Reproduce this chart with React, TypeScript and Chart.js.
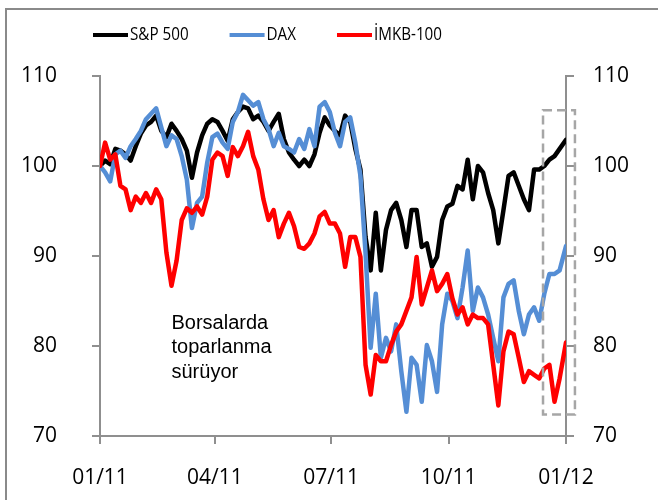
import { useEffect, useRef } from 'react';
import { Chart, registerables } from 'chart.js';

Chart.register(...registerables);

// Day offsets from 01/01/2011
const days = [0, 4, 8, 12, 16, 20, 24, 28, 32, 36, 40, 44, 48, 52, 56, 60, 64, 68, 72, 76, 80, 84, 88, 92,
  96, 100, 104, 108, 112, 116, 120, 124, 128, 132, 136, 140, 144, 148, 152, 156, 160, 164, 168, 172, 176, 180,
  184, 188, 192, 196, 200, 204, 208, 212, 216, 220, 224, 228, 232, 236, 240, 244, 248, 252, 256, 260, 264, 268,
  272, 276, 280, 284, 288, 292, 296, 300, 304, 308, 312, 316, 320, 324, 328, 332, 336, 340, 344, 348, 352, 356, 360, 365];

const sp500 = [100.0, 100.6, 100.2, 101.9, 101.7, 101.3, 100.6, 102.2, 103.6, 104.5, 104.9, 105.6, 103.9, 103.2, 104.7, 103.9, 103.0, 101.7, 98.7, 101.5, 103.4, 104.7, 105.2, 104.9,
  103.9, 102.8, 105.2, 106.0, 106.6, 106.4, 105.2, 105.6, 104.9, 103.9, 104.9, 105.8, 103.0, 101.5, 100.7, 100.0, 100.7, 100.0, 101.3, 103.7, 105.4, 104.5,
  103.9, 103.4, 105.6, 104.9, 101.9, 99.6, 92.1, 88.4, 94.8, 88.4, 92.9, 95.1, 95.9, 94.0, 91.0, 95.1, 95.1, 91.0, 91.4, 88.8, 89.9, 94.0,
  95.5, 95.8, 97.8, 97.4, 100.7, 96.3, 100.0, 99.3, 97.0, 95.1, 91.4, 95.1, 98.9, 99.3, 97.8, 96.3, 95.1, 99.6, 99.6, 100.0, 100.7, 101.1, 101.9, 102.9];

const dax = [100.0, 99.3, 98.3, 101.3, 101.7, 100.9, 102.2, 103.0, 103.9, 105.2, 105.8, 106.4, 104.3, 102.2, 103.4, 103.0, 101.1, 98.5, 93.1, 95.9, 96.6, 100.4, 103.2, 103.6,
  102.6, 101.9, 104.9, 106.0, 107.9, 107.3, 106.7, 107.1, 105.2, 104.1, 102.2, 103.7, 102.2, 101.9, 101.5, 103.0, 101.9, 104.1, 102.2, 106.6, 107.1, 106.0,
  103.7, 102.2, 104.9, 105.4, 102.6, 98.9, 90.3, 79.8, 85.8, 78.7, 80.9, 79.4, 82.4, 77.2, 72.7, 78.7, 77.9, 73.8, 80.1, 78.3, 74.9, 82.4,
  85.8, 85.0, 83.1, 86.5, 90.6, 83.9, 86.5, 85.4, 83.5, 80.9, 78.3, 85.4, 86.9, 87.3, 83.9, 81.3, 83.5, 84.3, 82.8, 85.8, 88.0, 88.0, 88.4, 91.1];

const imkb = [100.0, 102.6, 100.7, 101.3, 97.8, 97.4, 95.1, 96.6, 95.9, 97.0, 95.9, 97.4, 96.3, 90.4, 86.7, 89.5, 94.0, 95.3, 94.8, 95.5, 94.6, 96.6, 100.7, 101.5,
  101.1, 98.9, 102.1, 101.1, 102.2, 103.8, 101.1, 99.6, 96.3, 94.0, 95.1, 92.1, 93.6, 94.8, 93.3, 91.0, 90.8, 91.4, 92.5, 94.4, 94.9, 93.6,
  93.6, 92.5, 88.8, 92.1, 92.1, 89.9, 77.9, 74.6, 79.0, 78.3, 78.3, 80.1, 81.6, 82.4, 83.9, 85.4, 89.9, 84.6, 86.5, 88.4, 86.1, 86.9,
  88.0, 85.3, 83.5, 84.3, 82.4, 83.5, 83.1, 83.1, 82.4, 77.9, 73.4, 79.4, 81.6, 81.3, 78.7, 76.0, 77.2, 76.8, 76.4, 77.5, 77.9, 73.8, 76.4, 80.4];

const seriesNames = ['S&P 500', 'DAX', 'İMKB-100'];
const seriesColors = ['#000000', '#558ED5', '#FF0000'];
const xTickDays = [0, 90, 181, 273, 365];
const xTickLabels = ['01/11', '04/11', '07/11', '10/11', '01/12'];
const yTickValues = [70, 80, 90, 100, 110];
const noteLines = ['Borsalarda', 'toparlanma', 'sürüyor'];
const noteAt = { day: 56, value: 81.9 };
const highlight = { dayFrom: 347, dayTo: 372, low: 72.4, high: 106.2 };

const TICK_FONT = "'Open Sans', 'Noto Sans', sans-serif";
const AXIS_GREY = '#8f8f8f';

export default function App() {
  const ref = useRef<HTMLCanvasElement | null>(null);

  useEffect(() => {
    if (!ref.current) return;
    const seriesValues = [sp500, dax, imkb];

    const decorations = {
      id: 'decorations',
      beforeDraw(chart: any) {
        const ctx = chart.ctx;
        ctx.save();
        ctx.fillStyle = '#ffffff';
        ctx.fillRect(0, 0, chart.width, chart.height);
        ctx.strokeStyle = '#8a8a8a';
        ctx.lineWidth = 2;
        ctx.strokeRect(6, 9, 900, 900);
        ctx.restore();
      },
      afterDatasetsDraw(chart: any) {
        const ctx = chart.ctx;
        const xs = chart.scales.x;
        const ys = chart.scales.y;
        ctx.save();
        // highlight box
        const x0 = xs.getPixelForValue(highlight.dayFrom);
        const x1 = xs.getPixelForValue(highlight.dayTo);
        const y0 = ys.getPixelForValue(highlight.high);
        const y1 = ys.getPixelForValue(highlight.low);
        ctx.strokeStyle = '#a6a6a6';
        ctx.lineWidth = 2.5;
        ctx.setLineDash([9, 5]);
        ctx.strokeRect(x0, y0, x1 - x0, y1 - y0);
        ctx.setLineDash([]);
        // note text
        ctx.fillStyle = '#000';
        ctx.font = "20px 'Liberation Sans', Arial, sans-serif";
        ctx.textBaseline = 'alphabetic';
        ctx.textAlign = 'left';
        const nx = xs.getPixelForValue(noteAt.day);
        const ny = ys.getPixelForValue(noteAt.value);
        noteLines.forEach((t, i) => ctx.fillText(t, nx, ny + i * 24.5));
        // legend (text condensed horizontally, as in the reference)
        const squeeze = 0.8;
        ctx.font = `19px ${TICK_FONT}`;
        ctx.textBaseline = 'middle';
        let lx = 93;
        const ly = 35;
        seriesNames.forEach((name, i) => {
          ctx.strokeStyle = seriesColors[i];
          ctx.lineWidth = 4;
          ctx.beginPath();
          ctx.moveTo(lx, ly);
          ctx.lineTo(lx + 35, ly);
          ctx.stroke();
          ctx.fillStyle = '#000';
          ctx.save();
          ctx.translate(lx + 37, ly);
          ctx.scale(squeeze, 1);
          ctx.fillText(name, 0, 0);
          ctx.restore();
          lx += 37 + ctx.measureText(name).width * squeeze + 41;
        });
        ctx.restore();
      },
    };

    const chart = new Chart(ref.current, {
      type: 'line',
      data: {
        datasets: seriesNames.map((name, i) => ({
          label: name,
          data: days.map((d, j) => ({ x: d, y: seriesValues[i][j] })),
          borderColor: seriesColors[i],
          backgroundColor: seriesColors[i],
          borderWidth: 4.5,
          pointRadius: 0,
          tension: 0,
          borderJoinStyle: 'round' as const,
          borderCapStyle: 'round' as const,
          order: 3 - i,
        })),
      },
      options: {
        responsive: false,
        animation: false,
        layout: { padding: { top: 76, left: 0, right: 0, bottom: 0 } },
        plugins: { legend: { display: false }, tooltip: { enabled: false } },
        scales: {
          x: {
            type: 'linear',
            min: 0,
            max: 365,
            afterBuildTicks(scale: any) {
              scale.ticks = xTickDays.map((v) => ({ value: v }));
            },
            afterFit(scale: any) {
              scale.height = 64;
            },
            ticks: {
              autoSkip: false,
              maxRotation: 0,
              padding: 21,
              color: '#000',
              font: { family: TICK_FONT, size: 21 },
              callback: (v: any) => {
                const k = xTickDays.indexOf(Number(v));
                return k >= 0 ? xTickLabels[k] : '';
              },
            },
            grid: { drawOnChartArea: false, drawTicks: true, tickLength: 8, color: AXIS_GREY, lineWidth: 2 },
            border: { display: true, color: AXIS_GREY, width: 2 },
          },
          y: {
            position: 'left',
            min: 70,
            max: 110,
            afterBuildTicks(scale: any) {
              scale.ticks = yTickValues.map((v) => ({ value: v }));
            },
            afterFit(scale: any) {
              scale.width = 100;
            },
            ticks: { padding: 35, color: '#000', font: { family: TICK_FONT, size: 21 } },
            grid: { drawOnChartArea: false, drawTicks: true, tickLength: 8, color: AXIS_GREY, lineWidth: 2 },
            border: { display: true, color: AXIS_GREY, width: 2 },
          },
          y2: {
            position: 'right',
            min: 70,
            max: 110,
            afterBuildTicks(scale: any) {
              scale.ticks = yTickValues.map((v) => ({ value: v }));
            },
            afterFit(scale: any) {
              scale.width = 92;
            },
            ticks: { padding: 19, color: '#000', font: { family: TICK_FONT, size: 21 } },
            grid: { drawOnChartArea: false, drawTicks: true, tickLength: 8, color: AXIS_GREY, lineWidth: 2 },
            border: { display: true, color: AXIS_GREY, width: 2 },
          },
        },
      } as any,
      plugins: [decorations],
    });
    return () => chart.destroy();
  }, []);

  return (
    <div style={{ position: 'fixed', left: 0, top: 0, width: 658, height: 500, background: '#fff' }}>
      <canvas ref={ref} width={658} height={500} style={{ display: 'block', width: 658, height: 500 }} />
    </div>
  );
}
